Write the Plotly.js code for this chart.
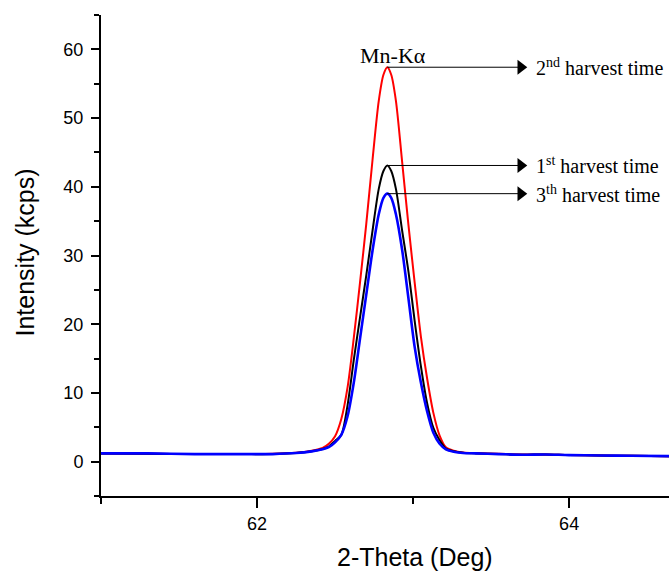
<!DOCTYPE html>
<html>
<head>
<meta charset="utf-8">
<script src="https://cdn.plot.ly/plotly-3.0.1.min.js"></script>
<style>html,body{margin:0;padding:0;background:#fff;overflow:hidden;}#chart{width:669px;height:571px;}</style>
</head>
<body>
<div id="chart"></div>
<script>
// 2-Theta (deg)
var theta = [61.0, 61.3, 61.6, 61.9, 62.1, 62.25, 62.35, 62.42, 62.46, 62.5, 62.54, 62.58, 62.62, 62.66, 62.7, 62.74, 62.78, 62.81, 62.835, 62.86, 62.89, 62.93, 62.97, 63.01, 63.05, 63.09, 63.13, 63.17, 63.21, 63.26, 63.32, 63.4, 63.55, 63.7, 63.85, 64.0, 64.2, 64.4, 64.64];
// Intensity (kcps)
var harvest2 = [1.2, 1.15, 1.1, 1.1, 1.15, 1.3, 1.6, 2.0, 2.6, 3.7, 6.2, 10.8, 18.0, 26.1, 34.6, 43.9, 52.5, 56.3, 57.4, 56.3, 52.5, 43.6, 34.5, 26.1, 18.2, 12.1, 7.1, 3.8, 2.1, 1.6, 1.35, 1.25, 1.15, 1.05, 1.05, 0.95, 0.9, 0.85, 0.8];
var harvest1 = [1.2, 1.15, 1.1, 1.1, 1.1, 1.25, 1.5, 1.85, 2.2, 3.0, 3.9, 8.2, 14.8, 21.0, 27.1, 33.6, 39.7, 42.3, 43.1, 42.3, 39.7, 33.6, 27.7, 20.5, 13.9, 8.5, 4.9, 3.1, 1.9, 1.5, 1.3, 1.2, 1.1, 1.0, 1.05, 0.95, 0.9, 0.85, 0.8];
var harvest3 = [1.2, 1.2, 1.1, 1.1, 1.1, 1.25, 1.5, 1.8, 2.1, 2.8, 3.9, 6.6, 11.5, 17.9, 24.3, 30.7, 36.0, 38.4, 39.0, 38.4, 36.0, 30.8, 23.8, 16.7, 11.5, 7.3, 4.2, 2.6, 1.8, 1.45, 1.25, 1.2, 1.1, 1.0, 1.05, 0.95, 0.9, 0.85, 0.8];
var seriesNames = ['2<sup>nd</sup> harvest time', '1<sup>st</sup> harvest time', '3<sup>th</sup> harvest time'];
var seriesColors = ['#ff0000', '#000000', '#0000ff'];
var peakLabel = 'Mn-K\u03b1';
var xTicks = [62, 64];
var yTicks = [0, 10, 20, 30, 40, 50, 60];

var allSeries = [harvest2, harvest1, harvest3];
var widths = [2, 2, 2.6];
var traces = allSeries.map(function (ys, i) {
  return {x: theta, y: ys, type: 'scatter', mode: 'lines', name: seriesNames[i],
    line: {color: seriesColors[i], width: widths[i], shape: 'spline', smoothing: 0.8},
    hoverinfo: 'skip'};
});

var arrowHeadCenter = 63.69, textStart = 63.772;
var serif = 'Liberation Serif, Times New Roman, serif';
var annotations = [];
var headX = [], headY = [];
allSeries.forEach(function (ys, i) {
  var m = Math.max.apply(null, ys);
  var px = theta[ys.indexOf(m)];
  traces.push({x: [px, arrowHeadCenter], y: [m, m], type: 'scatter', mode: 'lines',
    line: {color: '#000', width: 1}, hoverinfo: 'skip'});
  headX.push(arrowHeadCenter); headY.push(m);
  annotations.push({x: textStart, y: m, xref: 'x', yref: 'y', xanchor: 'left', yanchor: 'middle',
    text: seriesNames[i], showarrow: false, font: {family: serif, size: 20, color: '#000'}});
  if (i === 0) {
    annotations.push({x: px, y: m, xref: 'x', yref: 'y', xanchor: 'center', yanchor: 'bottom', xshift: 6, yshift: -3,
      text: peakLabel, showarrow: false, font: {family: serif, size: 22, color: '#000'}});
  }
});
traces.push({x: headX, y: headY, type: 'scatter', mode: 'markers',
  marker: {symbol: 'triangle-right', size: 13, color: '#000', line: {width: 0}}, hoverinfo: 'skip'});

annotations.push({xref: 'paper', yref: 'paper', x: 0.553, y: -0.127, xanchor: 'center', yanchor: 'middle',
  text: '2-Theta (Deg)', showarrow: false, font: {family: 'Liberation Sans, Arial, sans-serif', size: 25, color: '#000'}});
annotations.push({xref: 'paper', yref: 'paper', x: -0.134, y: 0.506, xanchor: 'center', yanchor: 'middle', textangle: -90,
  text: 'Intensity (kcps)', showarrow: false, font: {family: 'Liberation Sans, Arial, sans-serif', size: 25, color: '#000'}});

var tickFont = {family: 'Liberation Sans, Arial, sans-serif', size: 18, color: '#000'};
var layout = {
  width: 669, height: 571,
  margin: {l: 101, r: 0, t: 15, b: 75, pad: 0},
  paper_bgcolor: '#fff', plot_bgcolor: '#fff',
  showlegend: false,
  font: {family: 'Liberation Sans, Arial, sans-serif', size: 18, color: '#000'},
  xaxis: {range: [61, 64.64], tickmode: 'array', tickvals: xTicks, ticktext: xTicks.map(String), tickfont: tickFont,
    showline: true, linecolor: '#000', linewidth: 2, ticks: 'outside', ticklen: 10, tickwidth: 2, tickcolor: '#000',
    showgrid: false, zeroline: false, ticklabelstandoff: 0,
    minor: {tickmode: 'array', tickvals: [61, 63], ticks: 'outside', ticklen: 6, tickwidth: 2, tickcolor: '#000', showgrid: false}},
  yaxis: {range: [-5, 65], tickmode: 'array', tickvals: yTicks, ticktext: yTicks.map(String), tickfont: tickFont,
    showline: true, linecolor: '#000', linewidth: 2, ticks: 'outside', ticklen: 8, tickwidth: 2, tickcolor: '#000',
    showgrid: false, zeroline: false, ticklabelstandoff: 4,
    minor: {tickmode: 'array', tickvals: [-5, 5, 15, 25, 35, 45, 55, 65], ticks: 'outside', ticklen: 5, tickwidth: 2, tickcolor: '#000', showgrid: false}},
  annotations: annotations
};

Plotly.newPlot('chart', traces, layout, {displayModeBar: false, staticPlot: true});
</script>
</body>
</html>
